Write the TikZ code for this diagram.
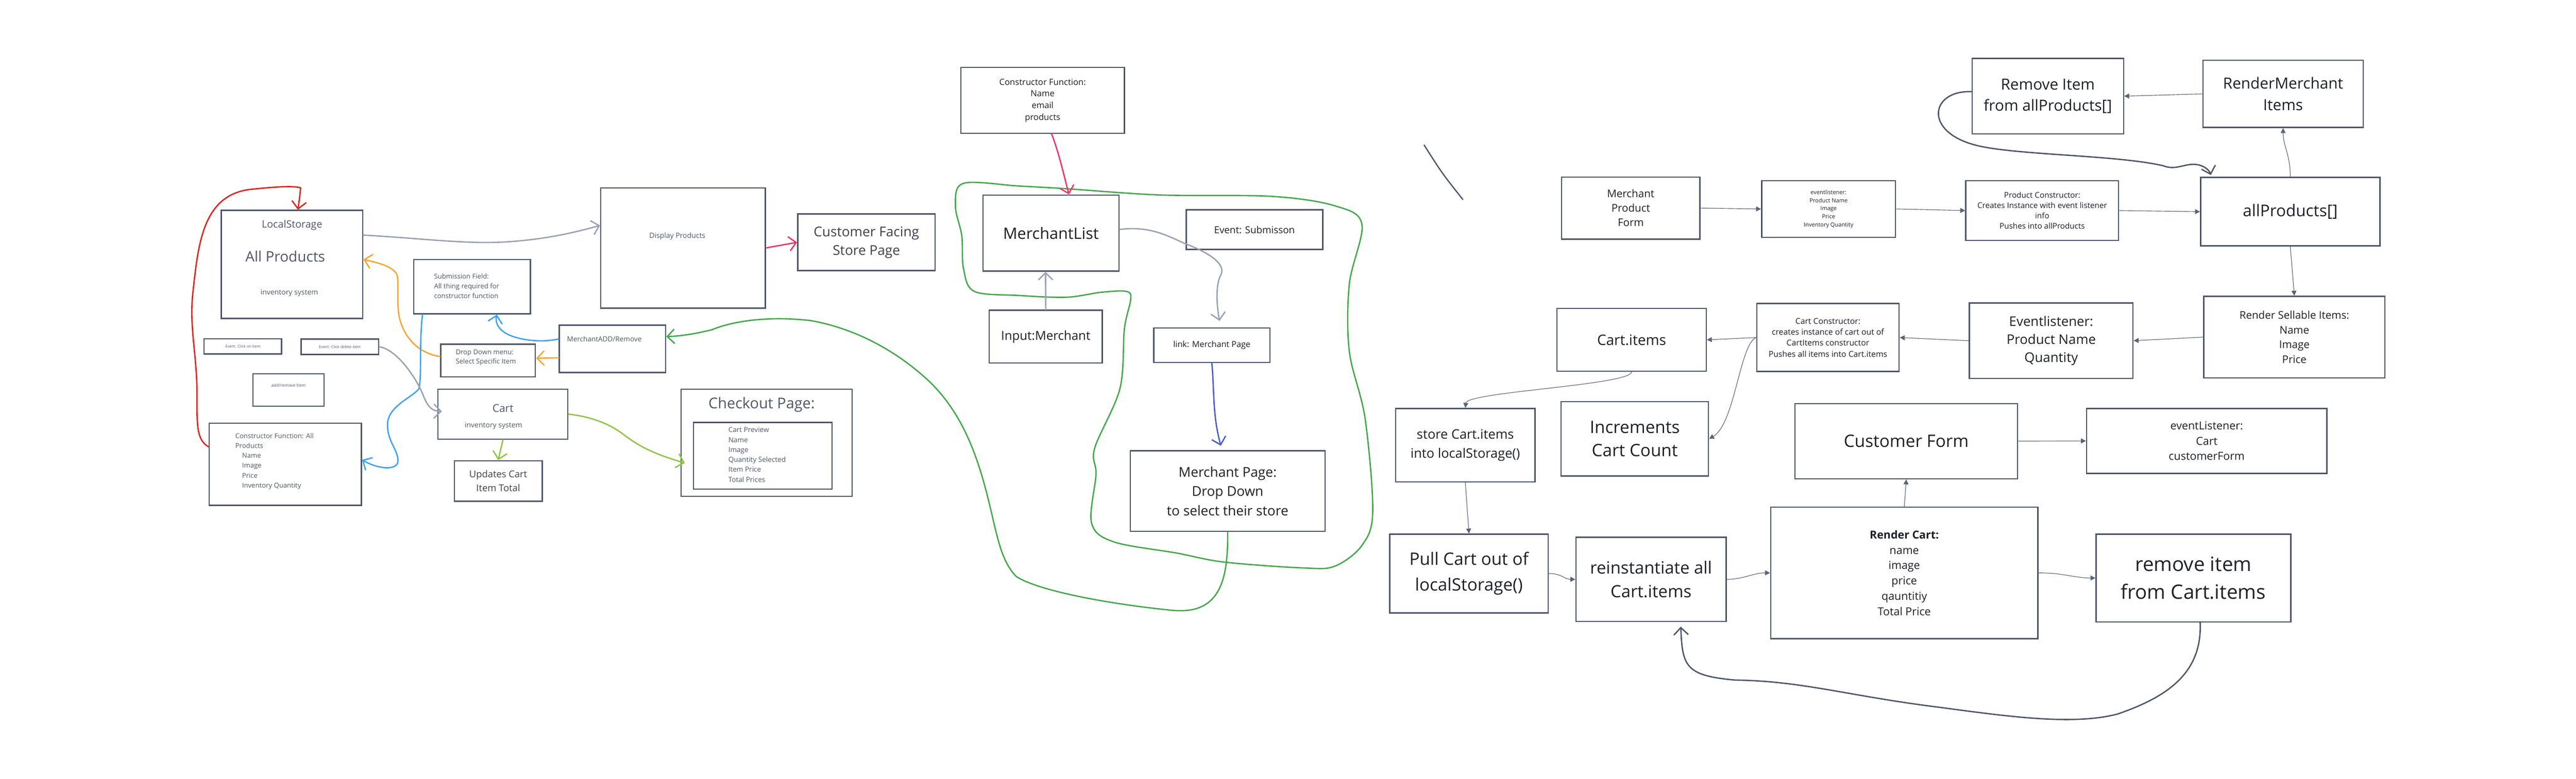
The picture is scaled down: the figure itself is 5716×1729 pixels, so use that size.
\documentclass[tikz,border=0pt]{standalone}
\usepackage{fontspec}
\setmainfont{Open Sans}
\usetikzlibrary{arrows.meta}

\definecolor{boxcol}{HTML}{4D5669}
\definecolor{txtgray}{HTML}{505767}
\definecolor{txtdark}{HTML}{1D2029}
\definecolor{linecol}{HTML}{5A6377}
\definecolor{arrgray}{HTML}{9AA1B3}
\definecolor{penred}{HTML}{E3201C}
\definecolor{penorange}{HTML}{F8A533}
\definecolor{penblue}{HTML}{3EA2F0}
\definecolor{pengreen}{HTML}{8DC641}
\definecolor{pendkgreen}{HTML}{43A84A}
\definecolor{penpink}{HTML}{F2326A}
\definecolor{penviolet}{HTML}{4B5CCF}

\newcommand{\fsz}[2]{\fontsize{#1}{#2}\selectfont}

\tikzset{
  boxnode/.style={draw=boxcol, line width=2.8pt, rectangle, inner sep=0pt, align=center, text=txtdark},
  lbl/.style={text=txtgray, inner sep=0pt, align=center},
  wire/.style={draw=linecol, line width=1.3pt, -{Triangle[length=11pt,width=11pt]}},
  handarrow/.style={line width=3pt, line cap=round, line join=round, -{Straight Barb[length=16pt,width=32pt]}},
}

\begin{document}
\begin{tikzpicture}[x=1pt,y=-1pt]
\useasboundingbox (0,0) rectangle (5716,1729);
\fill[white] (0,0) rectangle (5716,1729);

% left group
\node[boxnode, minimum width=314pt, minimum height=240pt] (ls) at (648,587) {};
\node[lbl, font=\fsz{22.5}{27}] (lsA) at (648,500) {LocalStorage};
\node[lbl, font=\fsz{32}{38}] (lsB) at (633,569) {All Products};
\node[lbl, font=\fsz{16}{20}] (lsC) at (642,651) {inventory system};

\node[boxnode, text=txtgray, font=\fsz{8.5}{10}, minimum width=172pt, minimum height=34pt] (evClick) at (539,769) {Event: Click on item};
\node[boxnode, text=txtgray, font=\fsz{8.5}{10}, minimum width=172pt, minimum height=34pt] (evDel) at (754,770) {Event: Click delete item};
\node[boxnode, minimum width=158pt, minimum height=72pt] (addrm) at (640,866) {};
\node[lbl, font=\fsz{9.5}{12}] (addrmT) at (640,855) {add/remove Item};

\node[boxnode, minimum width=338pt, minimum height=182pt] (cfAll) at (633,1031) {};
\node[lbl, font=\fsz{15}{22}, anchor=west, align=left] (cfAllT) at (522,1024) {Constructor Function: All\\Products\\\hspace*{15pt}Name\\\hspace*{15pt}Image\\\hspace*{15pt}Price\\\hspace*{15pt}Inventory Quantity};

\node[boxnode, minimum width=259pt, minimum height=121pt] (subm) at (1047.5,636.5) {};
\node[lbl, font=\fsz{15}{22}, anchor=west, align=left] (submT) at (963,635) {Submission Field:\\All thing required for\\constructor function};

\node[boxnode, minimum width=210pt, minimum height=73pt] (dd) at (1083,800.5) {};
\node[lbl, font=\fsz{15}{21}, anchor=west, align=left] (ddT) at (1011,794) {Drop Down menu:\\Select Specific Item};

\node[boxnode, minimum width=288pt, minimum height=111pt] (cart) at (1116,919.5) {};
\node[lbl, font=\fsz{24}{28}] (cartA) at (1116,906) {Cart};
\node[lbl, font=\fsz{16}{20}] (cartB) at (1095,946) {inventory system};

\node[boxnode, font=\fsz{21}{30}, text=txtdark!85!white, minimum width=195pt, minimum height=90pt] (upd) at (1105.5,1068) {Updates Cart\\Item Total};

\node[boxnode, minimum width=365pt, minimum height=267pt] (disp) at (1515.5,550.5) {};
\node[lbl, font=\fsz{16}{20}] (dispT) at (1503,524) {Display Products};

\node[boxnode, font=\fsz{30}{41}, text=txtdark!85!white, minimum width=305pt, minimum height=126pt] (cfs) at (1922.5,538) {Customer Facing\\Store Page};

\node[boxnode, minimum width=236pt, minimum height=105pt] (madd) at (1359,774.5) {};
\node[lbl, font=\fsz{15.5}{20}, anchor=west] (maddT) at (1258,753) {MerchantADD/Remove};

\node[boxnode, minimum width=380pt, minimum height=238pt] (chk) at (1701,983) {};
\node[lbl, font=\fsz{33}{40}] (chkT) at (1690,899) {Checkout Page:};
\node[boxnode, minimum width=307pt, minimum height=148pt] (chkIn) at (1692.5,1012) {};
\node[lbl, font=\fsz{15.5}{22}, anchor=west, align=left] (chkInT) at (1616,1009.5) {Cart Preview\\Name\\Image\\Quantity Selected\\Item Price\\Total Prices};

% left group arrows
\draw[handarrow, penred] ([yshift=39pt]cfAll.west) .. controls (432,975) and (438,930) .. (437,860)
  .. controls (435,780) and (420,720) .. (428,650) .. controls (440,540) and (450,430) .. (560,420)
  .. controls (610,415) and (650,412) .. (667,417) .. controls (666,430) and (664,445) .. ([xshift=13pt]ls.north);
\draw[handarrow, arrgray] ([yshift=65pt]ls.east) .. controls (950,530) and (1050,545) .. (1150,535)
  .. controls (1230,528) and (1290,512) .. ([yshift=50pt]disp.west);
\draw[handarrow, penorange] ([yshift=9pt]dd.west) .. controls (930,785) and (895,750) .. (885,700)
  .. controls (880,660) and (886,620) .. (880,608) .. controls (868,590) and (840,584) .. ([yshift=11pt]ls.east);
\draw[handarrow, penorange] ([yshift=-20pt]madd.west) -- ([yshift=5pt]dd.east);
\draw[handarrow, penblue] ([yshift=22pt]madd.west) .. controls (1200,762) and (1140,755) .. (1115,735)
  .. controls (1100,722) and (1100,710) .. ([xshift=55pt]subm.south);
\draw[handarrow, penblue] ([xshift=-110pt]subm.south) .. controls (930,760) and (936,830) .. (930,862)
  .. controls (920,880) and (862,900) .. (860,940) .. controls (858,980) and (885,1000) .. (883,1025)
  .. controls (880,1045) and (840,1042) .. ([yshift=10pt]cfAll.east);
\draw[handarrow, arrgray] (evDel.east) .. controls (880,775) and (925,840) .. (940,880)
  .. controls (950,905) and (960,913) .. ([xshift=10pt,yshift=6pt]cart.west);
\draw[handarrow, pengreen] (cart.south) -- (upd.north);
\draw[handarrow, pengreen] (cart.east) .. controls (1310,925) and (1350,940) .. (1380,962)
  .. controls (1410,985) and (1440,1005) .. ([xshift=10pt,yshift=-45pt]chk.west);
\draw[handarrow, penpink] (disp.east) -- (cfs.west);

% merchant group
\node[boxnode, font=\fsz{19}{26}, minimum width=363pt, minimum height=146pt] (cfm) at (2313.5,223) {Constructor Function:\\Name\\email\\products};
\node[boxnode, font=\fsz{35}{40}, minimum width=302pt, minimum height=169pt] (ml) at (2332,517.5) {MerchantList};
\node[boxnode, font=\fsz{21.5}{26}, minimum width=303pt, minimum height=88pt] (evSub) at (2783.5,510) {Event: Submisson};
\node[boxnode, font=\fsz{27.5}{32}, minimum width=251pt, minimum height=117pt] (inM) at (2320.5,747.5) {Input:Merchant};
\node[boxnode, font=\fsz{18.5}{22}, minimum width=258pt, minimum height=77pt] (lnk) at (2689,766.5) {link: Merchant Page};
\node[boxnode, font=\fsz{30}{43}, minimum width=432pt, minimum height=179pt] (mp) at (2724,1090.5) {Merchant Page:\\Drop Down\\to select their store};

% merchant loop
\draw[pendkgreen, line width=3pt] plot[smooth cycle, tension=0.55] coordinates {
  (2138,407) (2260,413) (2366,419) (2576,433) (2822,436) (2962,457) (3022,498)
  (2994,631) (2994,780) (3029,929) (3046,1136) (3022,1211) (2962,1257) (2892,1261)
  (2716,1248) (2611,1228) (2471,1203) (2422,1161) (2432,1053) (2429,995) (2485,863)
  (2495,730) (2509,664) (2499,647) (2443,649) (2366,660) (2260,656) (2162,647)
  (2138,597) (2134,523) (2120,457)};

\draw[handarrow, penpink] ([xshift=20pt]cfm.south) .. controls (2350,340) and (2362,395) .. ([xshift=40pt]ml.north);
\draw[handarrow, arrgray] (inM.north) -- ([xshift=-12pt]ml.south);
\draw[handarrow, arrgray] ([yshift=8pt]ml.east) .. controls (2560,500) and (2600,530) .. (2640,545)
  .. controls (2690,565) and (2722,590) .. (2708,612) .. controls (2695,640) and (2702,690) .. ([xshift=17pt,yshift=14pt]lnk.north);
\draw[handarrow, penviolet] (lnk.south) .. controls (2695,870) and (2690,920) .. ([xshift=-15pt,yshift=10pt]mp.north);
\draw[handarrow, pendkgreen] (mp.south) .. controls (2726,1300) and (2700,1365) .. (2600,1355)
  .. controls (2450,1340) and (2300,1310) .. (2255,1280) .. controls (2225,1250) and (2215,1200) .. (2205,1160)
  .. controls (2180,1050) and (2150,930) .. (2060,845) .. controls (1990,780) and (1900,730) .. (1800,712)
  .. controls (1700,700) and (1620,715) .. (1580,732) .. controls (1540,742) and (1510,746) .. ([yshift=27pt]madd.east);

% stray stroke
\draw[boxcol, line width=2.8pt, line cap=round] (3160,322) .. controls (3200,385) .. (3246,443);

% product flow
\node[boxnode, font=\fsz{23.5}{32}, minimum width=307pt, minimum height=138pt] (mpf) at (3618.5,462) {Merchant\\Product\\Form};
\node[boxnode, font=\fsz{12.6}{18}, minimum width=297pt, minimum height=126pt] (evl) at (4057.5,464) {eventlistener:\\Product Name\\Image\\Price\\Inventory Quantity};
\node[boxnode, font=\fsz{17.4}{23}, minimum width=339pt, minimum height=133pt] (pc) at (4531.5,467.5) {Product Constructor:\\Creates Instance with event listener\\info\\Pushes into allProducts};
\node[boxnode, font=\fsz{36}{44}, minimum width=398pt, minimum height=152pt] (ap) at (5082,470) {allProducts[]};
\node[boxnode, font=\fsz{34}{46}, minimum width=336pt, minimum height=167pt] (rmv) at (4544,213.5) {Remove Item\\from allProducts[]};
\node[boxnode, font=\fsz{34}{49}, minimum width=356pt, minimum height=149pt] (rmi) at (5066,208.5) {RenderMerchant\\Items};
\node[boxnode, font=\fsz{23.5}{33}, minimum width=402pt, minimum height=181pt] (rsi) at (5091,748.5) {Render Sellable Items:\\Name\\Image\\Price};
\node[boxnode, font=\fsz{29.5}{40}, minimum width=363pt, minimum height=167pt] (el) at (4551.5,756.5) {Eventlistener:\\Product Name\\Quantity};
\node[boxnode, font=\fsz{18}{24.4}, minimum width=316pt, minimum height=151pt] (cc) at (4056,749.5) {Cart Constructor:\\creates instance of cart out of\\CartItems constructor\\Pushes all items into Cart.items};
\node[boxnode, font=\fsz{32}{38}, minimum width=331pt, minimum height=139pt] (ci) at (3620.5,754.5) {Cart.items};

% cart flow
\node[boxnode, font=\fsz{29}{42}, minimum width=309pt, minimum height=163pt] (sci) at (3251.5,988.5) {store Cart.items\\into localStorage()};
\node[boxnode, font=\fsz{38}{51}, minimum width=327pt, minimum height=165pt] (inc) at (3627.5,974.5) {Increments\\Cart Count};
\node[boxnode, font=\fsz{38}{57}, minimum width=351pt, minimum height=175pt] (pull) at (3259.5,1273.5) {Pull Cart out of\\localStorage()};
\node[boxnode, font=\fsz{37.5}{53}, minimum width=333pt, minimum height=187pt] (rei) at (3663.5,1286.5) {reinstantiate all\\Cart.items};
\node[boxnode, font=\fsz{38}{44}, minimum width=494pt, minimum height=167pt] (cf) at (4230,979.5) {Customer Form};
\node[boxnode, font=\fsz{24.5}{34}, minimum width=593pt, minimum height=292pt] (rc) at (4225.5,1272) {\textbf{Render Cart:}\\name\\image\\price\\qauntitiy\\Total Price};
\node[boxnode, font=\fsz{24.5}{34}, minimum width=533pt, minimum height=144pt] (elc) at (4896.5,979) {eventListener:\\Cart\\customerForm};
\node[boxnode, font=\fsz{44}{61}, minimum width=432pt, minimum height=195pt] (rmc) at (4867,1283.5) {remove item\\from Cart.items};

% right connectors
\draw[wire] (mpf.east) -- (evl.west);
\draw[wire] (evl.east) -- (pc.west);
\draw[wire] (pc.east) -- (ap.west);
\draw[wire] (ap.north) .. controls +(0,-50) and +(0,40) .. (rmi.south);
\draw[wire] (rmi.west) -- (rmv.east);
\draw[wire] (ap.south) -- (rsi.north);
\draw[wire] (rsi.west) -- (el.east);
\draw[wire] (el.west) -- (cc.east);
\draw[wire] (cc.west) -- (ci.east);
\draw[wire] (cc.west) .. controls (3860,765) and (3850,940) .. (inc.east);
\draw[wire] (ci.south) .. controls (3620,855) and (3255,870) .. (sci.north);
\draw[wire] (sci.south) -- (pull.north);
\draw[wire] (pull.east) .. controls (3465,1273) and (3470,1286) .. (rei.west);
\draw[wire] (rei.east) .. controls (3870,1286) and (3890,1272) .. (rc.west);
\draw[wire] (rc.north) -- (cf.south);
\draw[wire] (cf.east) -- (elc.west);
\draw[wire] (rc.east) .. controls (4580,1272) and (4600,1283) .. (rmc.west);

\draw[handarrow, boxcol] ([yshift=10pt]rmv.west) .. controls (4280,200) and (4265,300) .. (4400,326)
  .. controls (4500,345) and (4700,345) .. (4800,368) .. controls (4830,380) and (4850,360) .. (4878,366)
  .. controls (4895,370) and (4903,380) .. ([xshift=24pt,yshift=4pt]ap.north west);
\draw[handarrow, boxcol] ([xshift=15pt]rmc.south) .. controls (4887,1500) and (4800,1550) .. (4700,1585)
  .. controls (4600,1612) and (4450,1590) .. (4300,1570) .. controls (4100,1545) and (4000,1512) .. (3850,1510)
  .. controls (3740,1500) and (3733,1480) .. ([xshift=66pt,yshift=-10pt]rei.south);
\end{tikzpicture}
\end{document}
